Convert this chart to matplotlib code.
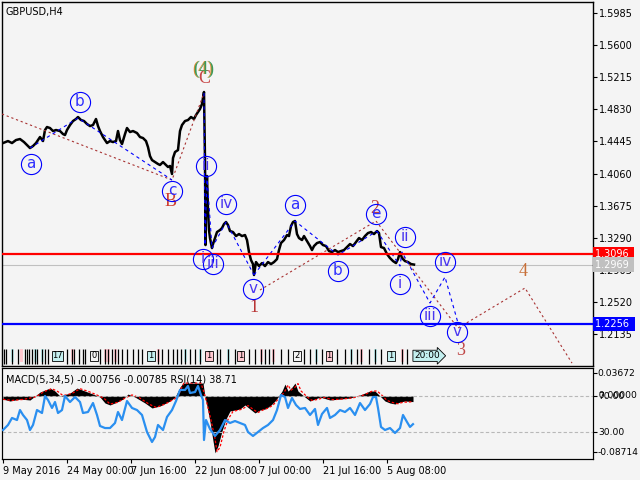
import numpy as np
import matplotlib.pyplot as plt
from matplotlib.patches import Rectangle
from matplotlib.transforms import blended_transform_factory, offset_copy

# ---------------- data ----------------
symbol_title = 'GBPUSD,H4'
indicator_title = 'MACD(5,34,5) -0.00756 -0.00785 RSI(14) 38.71'

# closing path of price (bar index, price)
price_bar = [0, 5, 9, 13, 17, 21, 24, 27, 30, 33,
             37, 40, 42, 44, 47, 50, 53, 57, 60, 62,
             64, 67, 70, 73, 75, 78, 81, 84, 87, 90,
             93, 95, 97, 100, 104, 107, 110, 113, 115, 117,
             119, 122, 124, 127, 130, 134, 137, 140, 143, 145,
             147, 149, 152, 155, 157, 160, 163, 165, 167, 169,
             170, 172, 175, 177, 179, 182, 185, 188, 191, 193,
             195, 197, 199, 200, 201, 202, 202.5, 203, 204, 205,
             206, 207, 209, 210, 212, 214, 217, 219, 221, 223,
             225, 227, 230, 233, 236, 239, 242, 244, 246, 248,
             250, 251, 253, 256, 259, 262, 265, 268, 271, 274,
             276, 278, 281, 284, 286, 288, 290, 292, 294, 296,
             299, 301, 304, 307, 309, 311, 314, 317, 320, 323,
             326, 329, 332, 335, 338, 341, 344, 347, 350, 353,
             356, 359, 362, 365, 368, 371, 374, 376, 378, 381,
             384, 387, 390, 393, 395, 397, 399, 402, 405, 408,
             411]
price_val = [1.4426, 1.4450, 1.4426, 1.4462, 1.4474, 1.4438, 1.4402, 1.4366, 1.4390, 1.4426,
             1.4498, 1.4450, 1.4582, 1.4618, 1.4606, 1.4570, 1.4582, 1.4570, 1.4534, 1.4522,
             1.4582, 1.4642, 1.4690, 1.4714, 1.4738, 1.4702, 1.4690, 1.4654, 1.4630, 1.4642,
             1.4714, 1.4630, 1.4570, 1.4498, 1.4426, 1.4450, 1.4438, 1.4450, 1.4570, 1.4462,
             1.4414, 1.4534, 1.4606, 1.4558, 1.4570, 1.4546, 1.4498, 1.4486, 1.4450, 1.4378,
             1.4270, 1.4222, 1.4198, 1.4175, 1.4163, 1.4198, 1.4163, 1.4139, 1.4151, 1.4055,
             1.4246, 1.4318, 1.4342, 1.4570, 1.4642, 1.4690, 1.4702, 1.4738, 1.4714, 1.4762,
             1.4798, 1.4834, 1.4894, 1.4966, 1.5038, 1.4222, 1.3203, 1.3743, 1.4031, 1.3623,
             1.3383, 1.3287, 1.3167, 1.3215, 1.3287, 1.3359, 1.3383, 1.3407, 1.3455, 1.3479,
             1.3443, 1.3371, 1.3359, 1.3311, 1.3335, 1.3311, 1.3323, 1.3263, 1.3119, 1.3023,
             1.2975, 1.2844, 1.2999, 1.2951, 1.2987, 1.2951, 1.2999, 1.2975, 1.2999, 1.3035,
             1.3143, 1.3227, 1.3263, 1.3323, 1.3311, 1.3431, 1.3479, 1.3491, 1.3335, 1.3287,
             1.3263, 1.3311, 1.3251, 1.3191, 1.3143, 1.3191, 1.3227, 1.3239, 1.3203, 1.3191,
             1.3131, 1.3119, 1.3143, 1.3119, 1.3131, 1.3143, 1.3179, 1.3215, 1.3191, 1.3239,
             1.3287, 1.3263, 1.3311, 1.3347, 1.3359, 1.3335, 1.3371, 1.3347, 1.3179, 1.3167,
             1.3095, 1.3047, 1.3011, 1.2987, 1.3035, 1.3119, 1.3047, 1.3011, 1.2999, 1.2975,
             1.2969]

resistance = 1.3096
support = 1.2256
last_price = 1.2969

# wave count lines (bar, price)
major_a_bar = [-1, 169, 201]
major_a_val = [1.4774, 1.3983, 1.5026]
major_b_bar = [257, 373, 455, 522, 569]
major_b_val = [1.2664, 1.3491, 1.2208, 1.2688, 1.1788]

minor_lines = [
    ([27, 75, 169], [1.4366, 1.4726, 1.3983]),
    ([201, 202, 204, 209, 223, 251], [1.5026, 1.3203, 1.4031, 1.3167, 1.3479, 1.2844]),
    ([251, 292, 335, 374], [1.2844, 1.3491, 1.3083, 1.3371]),
    ([374, 397, 399, 427, 442, 455], [1.3371, 1.2951, 1.3119, 1.2508, 1.2820, 1.2268]),
]

# circled labels (text, bar, price)
circle_labels = [
    ('a', 28, 1.4174), ('b', 77, 1.4918), ('c', 169, 1.3851),
    ('ii', 203, 1.4150), ('iv', 223, 1.3695), ('i', 200, 1.3035), ('iii', 210, 1.2975),
    ('v', 250, 1.2676), ('a', 292, 1.3683), ('b', 335, 1.2891), ('e', 373, 1.3575),
    ('ii', 402, 1.3299), ('i', 397, 1.2736), ('iv', 442, 1.2999), ('iii', 427, 1.2352),
    ('v', 454, 1.2160),
]
# plain wave labels (text, bar, price, colour)
wave_labels = [
    ('B', 168, 1.3731, '#d04030'), ('C', 201, 1.5194, '#c84848'),
    ('1', 251, 1.2460, '#b83434'), ('2', 372, 1.3647, '#c04040'),
    ('3', 458, 1.1944, '#c04848'), ('4', 520, 1.2891, '#c87038'),
]

price_ticks = [1.5985, 1.5600, 1.5215, 1.4830, 1.4445, 1.4060, 1.3675, 1.3290, 1.2905, 1.2520, 1.2135]
date_bars = [0, 64, 128, 192, 256, 320, 384]
date_labels = ['9 May 2016', '24 May 00:00', '7 Jun 16:00', '22 Jun 08:00',
               '7 Jul 00:00', '21 Jul 16:00', '5 Aug 08:00']

macd_bar = [0, 7, 17, 27, 32, 37, 42, 47, 52, 57, 67, 74, 82, 90, 97, 102, 107, 114, 120, 125,
            132, 142, 149, 157, 167, 172, 177, 180, 200, 202, 204, 207, 210, 212, 215, 219, 223,
            227, 237, 242, 247, 252, 257, 262, 267, 272, 275, 279, 282, 285, 289, 292, 295, 302,
            307, 312, 317, 327, 337, 347, 357, 367, 372, 377, 382, 387, 392, 397, 402, 410]
macd_val = [-0.0041, -0.0068, -0.0041, -0.0054, 0.0, 0.0054, 0.0082, 0.0109, 0.0068, 0.0,
            0.0041, 0.0109, 0.0068, 0.0027, -0.0014, -0.0095, -0.0122, -0.0082, -0.0041, 0.0027,
            -0.0014, -0.0095, -0.0163, -0.0136, -0.0068, -0.0014, 0.0122, 0.0177, 0.0177, -0.0014,
            -0.0136, -0.0354, -0.0612, -0.0776, -0.0681, -0.0476, -0.0313, -0.0204, -0.0177, -0.0122,
            -0.0177, -0.0231, -0.0191, -0.0177, -0.0136, -0.0068, -0.0014, 0.0068, 0.0163, 0.0068,
            0.0122, 0.0177, 0.0068, -0.0014, -0.0068, -0.0041, -0.0014, -0.0054, -0.0041, -0.0027,
            0.0014, 0.0068, 0.0068, 0.0, -0.0068, -0.0095, -0.0109, -0.0082, -0.0068, -0.0076]

signal_bar = [0, 9, 21, 33, 41, 49, 55, 60, 69, 77, 85, 93, 101, 107, 115, 123, 129, 136, 146, 153,
              162, 170, 175, 178, 181, 198, 201, 204, 208, 212, 214, 217, 221, 225, 230, 239, 245,
              251, 255, 260, 265, 270, 274, 278, 282, 285, 288, 292, 295, 298, 304, 309, 315, 321,
              330, 340, 350, 360, 369, 374, 379, 384, 390, 395, 400, 410]
signal_val = [-0.0045, -0.0060, -0.0045, -0.0010, 0.0060, 0.0100, 0.0060, 0.0005, 0.0035, 0.0100,
              0.0065, 0.0020, -0.0030, -0.0110, -0.0085, -0.0020, 0.0015, -0.0020, -0.0110, -0.0155,
              -0.0110, -0.0050, -0.0010, 0.0100, 0.0177, 0.0177, 0.0050, -0.0100, -0.0330, -0.0580,
              -0.0760, -0.0700, -0.0480, -0.0320, -0.0210, -0.0180, -0.0130, -0.0190, -0.0225, -0.0190,
              -0.0165, -0.0125, -0.0060, -0.0005, 0.0070, 0.0150, 0.0080, 0.0120, 0.0170, 0.0070,
              -0.0010, -0.0060, -0.0045, -0.0020, -0.0050, -0.0040, -0.0025, 0.0010, 0.0065, 0.0070,
              0.0010, -0.0060, -0.0090, -0.0105, -0.0085, -0.0078]

rsi_bar = [0, 5, 9, 14, 17, 20, 24, 27, 30, 34,
           39, 42, 45, 49, 52, 55, 59, 62, 67, 72,
           77, 80, 85, 90, 94, 97, 102, 107, 112, 115,
           119, 124, 129, 134, 139, 144, 149, 152, 155, 160,
           164, 169, 173, 177, 182, 185, 187, 192, 195, 198,
           200, 201, 203, 207, 212, 217, 222, 227, 232, 237,
           242, 245, 250, 255, 260, 265, 270, 274, 278, 282,
           285, 289, 293, 297, 302, 307, 312, 315, 319, 324,
           327, 332, 337, 342, 347, 352, 357, 362, 367, 370,
           373, 375, 378, 382, 387, 392, 397, 400, 404, 407,
           410]
rsi_val = [32.2, 37.8, 45.6, 43.3, 54.4, 48.9, 43.3, 32.2, 37.8, 54.4,
           51.1, 70.0, 65.6, 56.7, 63.3, 51.1, 54.4, 70.0, 63.3, 68.9,
           63.3, 51.1, 52.2, 62.2, 48.9, 36.7, 34.4, 34.4, 40.0, 52.2,
           43.3, 64.4, 56.7, 54.4, 48.9, 30.0, 18.9, 24.4, 37.8, 32.2,
           46.7, 54.4, 64.4, 76.7, 76.7, 81.1, 73.3, 74.4, 81.1, 71.1,
           65.6, 21.1, 43.3, 33.3, 25.6, 32.2, 43.3, 40.0, 42.2, 40.0,
           37.8, 30.0, 25.6, 30.0, 34.4, 37.8, 43.3, 54.4, 71.1, 68.9,
           56.7, 67.8, 60.0, 55.6, 56.7, 48.9, 55.6, 37.8, 50.0, 56.7,
           45.6, 48.9, 54.4, 52.2, 56.7, 48.9, 62.2, 54.4, 61.1, 68.9,
           68.9, 56.7, 35.6, 32.2, 34.4, 28.9, 34.4, 48.9, 41.1, 35.6,
           38.71]

# small time-marker strip at the bottom of the price panel
strip_lines = [1, 3, 9, 15, 22, 24, 26, 29, 32, 34, 39, 42, 45, 64, 69, 71, 76, 80, 82, 97,
               102, 105, 109, 112, 115, 119, 124, 130, 135, 139, 155, 159, 165, 170, 174, 178,
               182, 187, 192, 197, 214, 217, 225, 232, 246, 252, 258, 262, 266, 270, 278, 285,
               301, 307, 313, 319, 334, 342, 348, 354, 358, 366, 372, 378, 399, 404]
strip_fill = [(9, 'c'), (18, 'p'), (32, 'c'), (39, 'c'), (69, 'p'), (102, 'p'), (105, 'p'),
              (112, 'p'), (155, 'p'), (182, 'c'), (197, 'c'), (225, 'c'), (258, 'p'),
              (270, 'p'), (313, 'c'), (348, 'c'), (358, 'p'), (372, 'c'), (399, 'p')]
strip_boxes = [(49, 60, '17', 'c'), (87, 95, '0', 'w'), (144, 152, '1', 'c'), (202, 210, '1', 'p'),
               (234, 241, '1', 'p'), (290, 298, '2', 'w'), (323, 329, '1', 'p'), (384, 392, '1', 'c')]
strip_colors = {'c': '#c4f0f0', 'p': '#ffc8d0', 'w': '#f4f4f4'}

# ---------------- drawing ----------------
bg = '#f4f4f4'
W, H = 640, 480
fig = plt.figure(figsize=(6.4, 4.8), dpi=100, facecolor=bg)


def px_axes(left, top, right, bottom):
    return fig.add_axes([left / W, 1 - bottom / H, (right - left) / W, (bottom - top) / H])


ax = px_axes(2, 2, 593, 366)
ax.set_facecolor(bg)
ax.set_xlim(-1, 590)
ax.set_ylim(1.1753, 1.6117)
ax.set_xticks([])
ax.yaxis.tick_right()
ax.set_yticks(price_ticks)
ax.set_yticklabels([f'{v:.4f}' for v in price_ticks])
ax.tick_params(axis='y', length=3, width=0.8, labelsize=7, pad=1.5)
for s in ax.spines.values():
    s.set_linewidth(1)

# price
ax.plot(price_bar, price_val, color='black', lw=1.8, zorder=3)

# horizontal levels
ax.axhline(last_price, color='#c0c0c0', lw=0.8, zorder=2)
ax.axhline(resistance, color='#ff0000', lw=1.6, zorder=4)
ax.axhline(support, color='#0000ff', lw=1.6, zorder=4)

# wave lines
ax.plot(major_a_bar, major_a_val, color='#a83232', lw=0.8, ls=(0, (2, 2.5)), zorder=3)
ax.plot(major_b_bar, major_b_val, color='#a83232', lw=0.8, ls=(0, (2, 2.5)), zorder=3)
for xs, ys in minor_lines:
    ax.plot(xs, ys, color='#0000ff', lw=0.8, ls=(0, (3, 3)), zorder=3)

# labels
for t, x, y, c in wave_labels:
    ax.text(x, y, t, color=c, fontsize=13, family='Liberation Serif',
            ha='center', va='center', zorder=6)
for t, x, y in circle_labels:
    ax.plot(x, y, 'o', ms=14.5, mfc='none', mec='#0000ff', mew=0.8, zorder=7)
    col = '#3030ff' if t in ('a', 'b', 'c', 'e') else '#4a36f0'
    ax.text(x, y + 0.0006, t, color=col, fontsize=11, ha='center', va='center', zorder=8)

sh = offset_copy(ax.transData, fig=fig, x=-1, y=0, units='dots')
ax.text(201, 1.5314, '(4)', color='#e08a30', fontsize=13, family='Liberation Serif',
        ha='center', va='center', transform=sh, zorder=6)
ax.text(201, 1.5314, '(4)', color='#3a9a5a', fontsize=13, family='Liberation Serif',
        ha='center', va='center', zorder=6)

ax.text(0.006, 0.985, symbol_title, transform=ax.transAxes, fontsize=7, ha='left', va='top')

# price boxes on the right
bt = blended_transform_factory(ax.transAxes, ax.transData)
for v, fc in [(resistance, '#ff0000'), (last_price, '#c0c0c0'), (support, '#0000ff')]:
    ax.text(1.004, v, f'{v:.4f} ', transform=bt, color='white', fontsize=7, ha='left', va='center',
            bbox=dict(boxstyle='square,pad=0.22', fc=fc, ec='none'), clip_on=False, zorder=10)

# time-marker strip
st = blended_transform_factory(ax.transData, ax.transAxes)
for b, k in strip_fill:
    ax.add_patch(Rectangle((b - 1, 0.01), 3, 0.036, transform=st, fc=strip_colors[k], ec='none', zorder=2))
ax.vlines(strip_lines, 0.006, 0.048, transform=st, color='black', lw=0.9, zorder=3)
for b0, b1, t, k in strip_boxes:
    ax.add_patch(Rectangle((b0, 0.014), b1 - b0, 0.028, transform=st, fc=strip_colors[k],
                           ec='black', lw=0.6, zorder=3))
    ax.text((b0 + b1) / 2, 0.028, t, transform=st, fontsize=6, ha='center', va='center', zorder=4)
ax.text(411, 0.028, '20:00', transform=st, fontsize=6.5, ha='left', va='center', zorder=4,
        bbox=dict(boxstyle='rarrow,pad=0.12', fc='#c4f0f0', ec='black', lw=0.6))

# ---------------- indicator panel ----------------
axi = px_axes(2, 368, 593, 459)
axi.set_facecolor(bg)
axi.set_xlim(-1, 590)
axi.set_ylim(-0.0860, 0.0383)
axi.set_yticks([])
axi.fill_between(macd_bar, 0, macd_val, color='black', lw=0, zorder=2)
axi.plot(signal_bar, signal_val, color='#ff0000', lw=0.9, ls=(0, (2, 1.5)), zorder=3)
axi.set_xticks(date_bars)
axi.set_xticklabels(date_labels)
for lab in axi.get_xticklabels():
    lab.set_horizontalalignment('left')
axi.tick_params(axis='x', length=3, width=0.8, labelsize=7, pad=2)

axr = axi.twinx()
axr.set_ylim(0, 101.1)
axr.axhline(70, color='#b8b8b8', lw=0.8, ls=(0, (3, 2)), zorder=1)
axr.axhline(30, color='#b8b8b8', lw=0.8, ls=(0, (3, 2)), zorder=1)
axr.plot(rsi_bar, rsi_val, color='#2a8ff0', lw=1.6, zorder=4)
axr.set_yticks([95.6, 70, 30, 7.8])
axr.set_yticklabels(['0.03672', '70.00', '30.00', '-0.08714'])
axr.tick_params(axis='y', length=3, width=0.8, labelsize=6.6, pad=0.5)
axr.text(1.0, 70, '  0.00000', transform=blended_transform_factory(axr.transAxes, axr.transData),
         fontsize=6.6, ha='left', va='center', clip_on=False)
axi.text(0.006, 0.93, indicator_title, transform=axi.transAxes, fontsize=7, ha='left', va='top')

fig.savefig('out.png', dpi=100, facecolor=bg)
